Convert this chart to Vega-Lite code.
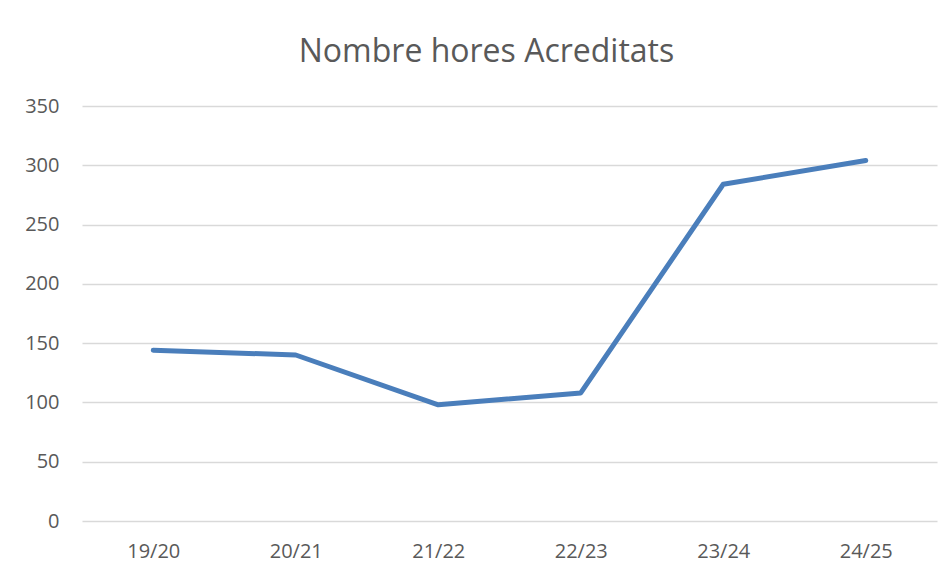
{
  "$schema": "https://vega.github.io/schema/vega-lite/v6.json",
  "autosize": "none",
  "width": 855,
  "height": 415,
  "padding": {"left": 82, "top": 106, "right": 15, "bottom": 57},
  "background": "white",
  "title": {
    "text": "Nombre hores Acreditats",
    "anchor": "middle",
    "dx": -23,
    "offset": 27,
    "font": "Open Sans",
    "fontSize": 32,
    "fontWeight": "normal",
    "color": "#595959"
  },
  "data": {
    "values": [
      {"curs": "19/20", "hores": 144},
      {"curs": "20/21", "hores": 140},
      {"curs": "21/22", "hores": 98},
      {"curs": "22/23", "hores": 108},
      {"curs": "23/24", "hores": 284},
      {"curs": "24/25", "hores": 304}
    ]
  },
  "mark": {"type": "line", "color": "#4A7EBB", "strokeWidth": 5, "strokeCap": "round", "strokeJoin": "round"},
  "encoding": {
    "x": {
      "field": "curs",
      "type": "ordinal",
      "sort": null,
      "scale": {"padding": 0.5},
      "axis": {
        "title": null,
        "labelAngle": 0,
        "domain": false,
        "ticks": false,
        "grid": false,
        "labelPadding": 20,
        "labelFont": "Open Sans",
        "labelFontSize": 20,
        "labelColor": "#595959"
      }
    },
    "y": {
      "field": "hores",
      "type": "quantitative",
      "scale": {"domain": [0, 350], "nice": false},
      "axis": {
        "title": null,
        "values": [0, 50, 100, 150, 200, 250, 300, 350],
        "domain": false,
        "ticks": false,
        "grid": true,
        "gridColor": "#D9D9D9",
        "gridWidth": 1.5,
        "labelPadding": 23,
        "labelFont": "Open Sans",
        "labelFontSize": 20,
        "labelColor": "#595959"
      }
    }
  },
  "config": {"view": {"stroke": null}}
}
